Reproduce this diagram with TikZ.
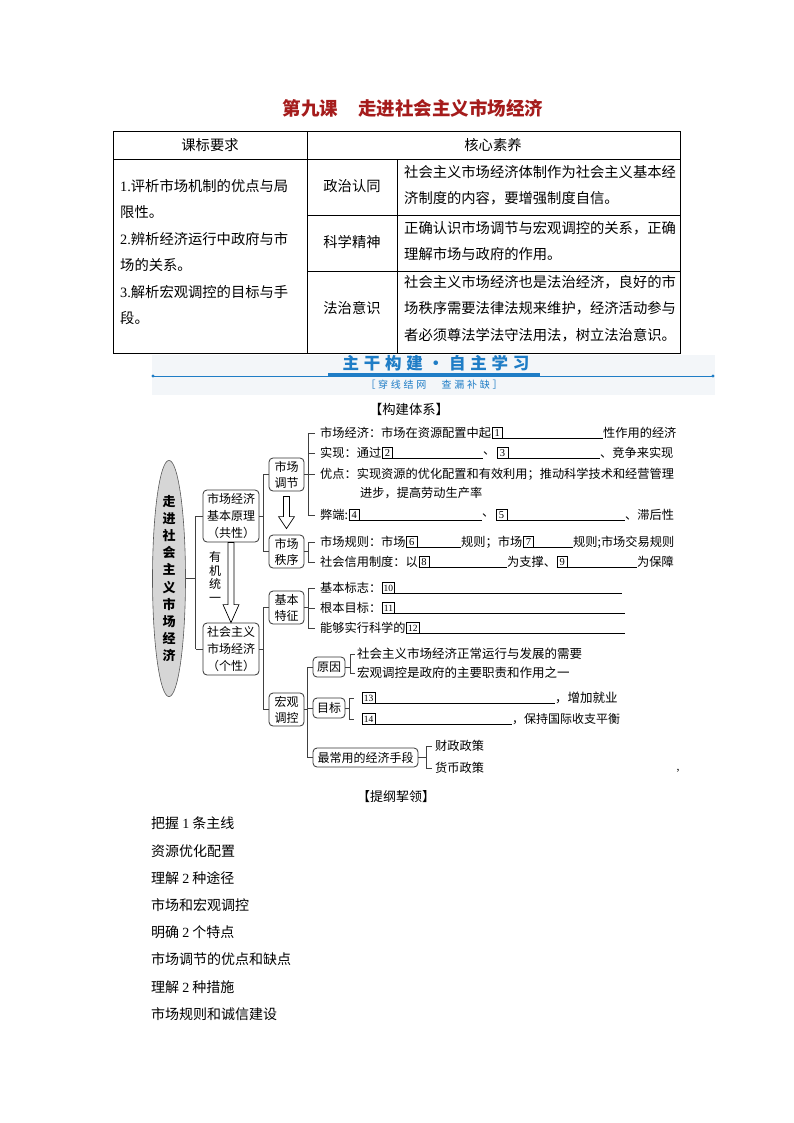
\documentclass[tikz,border=0pt]{standalone}
\usepackage{fontspec}
\setmainfont{Noto Sans CJK SC}
\newfontfamily\numf{Liberation Serif}
\usetikzlibrary{shapes.geometric,positioning,calc}
\newcommand{\myfs}[1]{\fontsize{#1}{#1}\selectfont}
\definecolor{titlered}{HTML}{A51C1C}
\definecolor{bannerblue}{HTML}{1F7DC6}
\definecolor{bandbg}{HTML}{F3F6F9}
\definecolor{ellgray}{HTML}{D6D6D6}
\begin{document}
\begin{tikzpicture}[x=1pt,y=-1pt,
  tbl/.style={line width=1pt},
  tt/.style={inner sep=0pt,font={\myfs{14.3}}},
  ttl/.style={tt,anchor=west},
  rt/.style={inner sep=0pt,anchor=west,font={\myfs{12.2}}},
  rbox/.style={draw=black!80,rounded corners=4pt,line width=0.8pt,align=center,inner sep=0pt,font={\fontsize{12}{16}\selectfont}},
  conn/.style={draw=black!75,line width=0.7pt},
  numbox/.style={draw,line width=0.6pt,inner sep=0pt,minimum width=10.5pt,minimum height=11pt,font={\numf\myfs{10.5}},anchor=west},
  numboxw/.style={numbox,minimum width=12.5pt,font={\numf\myfs{9.5}}},
  uline/.style={line width=0.7pt},
  hollow/.style={draw,fill=white,line width=0.7pt},
  bl/.style={inner sep=0pt,anchor=west,font={\myfs{14}}}]
\useasboundingbox (0,0) rectangle (794,1123);
\fill[white] (0,0) rectangle (794,1123);

% banner background first
\fill[bandbg] (152,355) rectangle (715,395);

% title
\node[font={\bfseries\myfs{18.5}},text=titlered] (title) at (413,108) {第九课\hspace{1.1em}走进社会主义市场经济};

% table
\draw[tbl] (113,132) rectangle (680,353);
\draw[tbl] (113,160) -- (680,160);
\draw[tbl] (307,132) -- (307,353);
\draw[tbl] (397,160) -- (397,353);
\draw[tbl] (307,216) -- (680,216);
\draw[tbl] (307,271) -- (680,271);
\node[tt] (h1) at (210,145) {课标要求};
\node[tt] (h2) at (493,145) {核心素养};
\node[ttl] (l1) at (120,186) {{\numf 1.}评析市场机制的优点与局};
\node[ttl] (l2) at (120,212.5) {限性。};
\node[ttl] (l3) at (120,239) {{\numf 2.}辨析经济运行中政府与市};
\node[ttl] (l4) at (120,265.5) {场的关系。};
\node[ttl] (l5) at (120,292) {{\numf 3.}解析宏观调控的目标与手};
\node[ttl] (l6) at (120,318.5) {段。};
\node[tt] (m1) at (352,186) {政治认同};
\node[tt] (m2) at (352,242) {科学精神};
\node[tt] (m3) at (352,308) {法治意识};
\node[ttl] (x1) at (404,172) {社会主义市场经济体制作为社会主义基本经};
\node[ttl] (x2) at (404,198) {济制度的内容，要增强制度自信。};
\node[ttl] (x3) at (404,228) {正确认识市场调节与宏观调控的关系，正确};
\node[ttl] (x4) at (404,254) {理解市场与政府的作用。};
\node[ttl] (x5) at (404,282) {社会主义市场经济也是法治经济，良好的市};
\node[ttl] (x6) at (404,308) {场秩序需要法律法规来维护，经济活动参与};
\node[ttl] (x7) at (404,335) {者必须尊法学法守法用法，树立法治意识。};

% banner
\draw[bannerblue,line width=0.8pt] (153,376) -- (713,376);
\fill[bannerblue] (153,376) circle (1.6) (713,376) circle (1.6);
\fill[bannerblue] (328,373) rectangle (540,376.8);
\node[font={\bfseries\myfs{16.5}\addfontfeatures{LetterSpace=29}},text=bannerblue,inner sep=0pt] (ban) at (436,363) {主干构建・自主学习};
\node[font={\myfs{10}\addfontfeatures{LetterSpace=27}},text=bannerblue,inner sep=0pt] (sub) at (434,385) {［穿线结网　查漏补缺］};
\node[font={\myfs{13.3}}] (kj) at (409,409) {【构建体系】};

% left structure
\node[ellipse,draw=gray!70!black,fill=ellgray,line width=0.6pt,minimum width=33pt,minimum height=215pt,inner sep=0pt,align=center,font={\bfseries\fontsize{13}{17.2}\selectfont}] (E) at (169,578.5) {走\\进\\社\\会\\主\\义\\市\\场\\经\\济};
\node[rbox,minimum width=56pt,minimum height=52pt,font={\fontsize{12}{17}\selectfont}] (b1) at (231,516) {市场经济\\基本原理\\（共性）};
\node[rbox,minimum width=56pt,minimum height=52pt,font={\fontsize{12}{17}\selectfont}] (b2) at (231,649) {社会主义\\市场经济\\（个性）};
\node[align=center,inner sep=0pt,font={\fontsize{12}{13.5}\selectfont}] (yj) at (215,577) {有\\机\\统\\一};
\node[rbox,minimum width=35pt,minimum height=33pt] (c1) at (286.5,474.5) {市场\\调节};
\node[rbox,minimum width=35pt,minimum height=33pt] (c2) at (286.5,551.5) {市场\\秩序};
\node[rbox,minimum width=35pt,minimum height=33pt] (c3) at (286.5,607.5) {基本\\特征};
\node[rbox,minimum width=35pt,minimum height=33pt] (c4) at (286.5,709.5) {宏观\\调控};

\draw[conn] (E.east) -- ++(10,0) coordinate (ev);
\draw[conn] (ev |- b1.west) -- (ev |- b2.west);
\draw[conn] (ev |- b1.west) -- (b1.west);
\draw[conn] (ev |- b2.west) -- (b2.west);
\draw[conn] (b1.east) -- ++(4,0) coordinate (bv1);
\draw[conn] (bv1 |- c1.west) -- (bv1 |- c2.west);
\draw[conn] (bv1 |- c1.west) -- (c1.west);
\draw[conn] (bv1 |- c2.west) -- (c2.west);
\draw[conn] (b2.east) -- ++(4,0) coordinate (bv2);
\draw[conn] (bv2 |- c3.west) -- (bv2 |- c4.west);
\draw[conn] (bv2 |- c3.west) -- (c3.west);
\draw[conn] (bv2 |- c4.west) -- (c4.west);

% hollow arrows
\draw[hollow] let \p1=(b1.south), \p2=(b2.north) in
  (\x1-3pt,\y1) -- (\x1-3pt,\y2+18pt) -- (\x1-8pt,\y2+18pt) -- (\x2,\y2)
  -- (\x1+8pt,\y2+18pt) -- (\x1+3pt,\y2+18pt) -- (\x1+3pt,\y1) -- cycle;
\draw[hollow] let \p1=(c1.south), \p2=(c2.north) in
  (\x1-3pt,\y1-5pt) -- (\x1-3pt,\y2+18pt) -- (\x1-8pt,\y2+18pt) -- (\x2,\y2+6pt)
  -- (\x1+8pt,\y2+18pt) -- (\x1+3pt,\y2+18pt) -- (\x1+3pt,\y1-5pt) -- cycle;

% market regulation subtree
\node[rt] (r1) at (320,433) {市场经济：市场在资源配置中起};
\node[numbox,right=0.5pt of r1] (n1) {1};
\node[rt] (r1b) at (603,433) {性作用的经济};
\draw[uline] (n1.south west) -- (n1.south west -| r1b.west);
\node[rt] (r2) at (320,453) {实现：通过};
\node[numbox,right=0.5pt of r2] (n2) {2};
\node[rt] (r2b) at (483,453) {、};
\node[numbox] (n3) at (497,453) {3};
\node[rt] (r2c) at (600,453) {、竞争来实现};
\draw[uline] (n2.south west) -- (n2.south west -| r2b.west);
\draw[uline] (n3.south west) -- (n3.south west -| r2c.west);
\node[rt] (r3) at (320,474) {优点：实现资源的优化配置和有效利用；推动科学技术和经营管理};
\node[rt] (r3b) at (360,493) {进步，提高劳动生产率};
\node[rt] (r4) at (320,515) {弊端:};
\node[numbox,right=0.5pt of r4] (n4) {4};
\node[rt] (r4b) at (482,515) {、};
\node[numbox] (n5) at (496,515) {5};
\node[rt] (r4c) at (625,515) {、滞后性};
\draw[uline] (n4.south west) -- (n4.south west -| r4b.west);
\draw[uline] (n5.south west) -- (n5.south west -| r4c.west);
\draw[conn] (c1.east) -- ++(3.5,0) coordinate (cv1);
\draw[conn] (cv1 |- r1.west) -- (cv1 |- r4.west);
\foreach \n in {r1,r2,r3,r4} \draw[conn] (cv1 |- \n.west) -- ([xshift=-5pt]\n.west);

% market order subtree
\node[rt] (r6) at (320,542) {市场规则：市场};
\node[numbox,right=0.5pt of r6] (n6) {6};
\node[rt] (r6b) at (461,542) {规则；市场};
\node[numbox,right=0.5pt of r6b] (n7) {7};
\node[rt] (r6c) at (573,542) {规则;市场交易规则};
\draw[uline] (n6.south west) -- (n6.south west -| r6b.west);
\draw[uline] (n7.south west) -- (n7.south west -| r6c.west);
\node[rt] (r8) at (320,562) {社会信用制度：以};
\node[numbox,right=0.5pt of r8] (n8) {8};
\node[rt] (r8b) at (507,562) {为支撑、};
\node[numbox,right=0.5pt of r8b] (n9) {9};
\node[rt] (r8c) at (637,562) {为保障};
\draw[uline] (n8.south west) -- (n8.south west -| r8b.west);
\draw[uline] (n9.south west) -- (n9.south west -| r8c.west);
\draw[conn] (c2.east) -- ++(3.5,0) coordinate (cv2);
\draw[conn] (cv2 |- r6.west) -- (cv2 |- r8.west);
\foreach \n in {r6,r8} \draw[conn] (cv2 |- \n.west) -- ([xshift=-5pt]\n.west);

% basic features subtree
\node[rt] (r10) at (320,588) {基本标志：};
\node[numboxw,right=0.5pt of r10] (n10) {10};
\coordinate (e10) at (622,588);
\draw[uline] (n10.south west) -- (n10.south west -| e10);
\node[rt] (r11) at (320,608) {根本目标：};
\node[numboxw,right=0.5pt of r11] (n11) {11};
\coordinate (e11) at (625,608);
\draw[uline] (n11.south west) -- (n11.south west -| e11);
\node[rt] (r12) at (320,628) {能够实行科学的};
\node[numboxw,right=0.5pt of r12] (n12) {12};
\coordinate (e12) at (625,628);
\draw[uline] (n12.south west) -- (n12.south west -| e12);
\draw[conn] (c3.east) -- ++(3.5,0) coordinate (cv3);
\draw[conn] (cv3 |- r10.west) -- (cv3 |- r12.west);
\foreach \n in {r10,r11,r12} \draw[conn] (cv3 |- \n.west) -- ([xshift=-5pt]\n.west);

% macro control subtree
\node[rbox,minimum width=32pt,minimum height=20pt] (d1) at (329,667) {原因};
\node[rbox,minimum width=32pt,minimum height=20pt] (d2) at (329,708) {目标};
\node[rbox,minimum width=105pt,minimum height=19pt] (d3) at (365.5,757.5) {最常用的经济手段};
\draw[conn] (c4.east) -- ++(3,0) coordinate (cv4);
\draw[conn] (cv4 |- d1.west) -- (cv4 |- d3.west);
\foreach \n in {d1,d2,d3} \draw[conn] (cv4 |- \n.west) -- (\n.west);

\node[rt,font={\myfs{12.5}}] (s1) at (357,654) {社会主义市场经济正常运行与发展的需要};
\node[rt,font={\myfs{12.5}}] (s2) at (357,673) {宏观调控是政府的主要职责和作用之一};
\draw[conn] (d1.east) -- ++(5,0) coordinate (dv1);
\draw[conn] (dv1 |- s1.west) -- (dv1 |- s2.west);
\foreach \n in {s1,s2} \draw[conn] (dv1 |- \n.west) -- ([xshift=-2.5pt]\n.west);

\node[numboxw] (n13) at (362,698) {13};
\node[rt,font={\myfs{12.5}}] (t13) at (555,698) {，增加就业};
\node[numboxw] (n14) at (362,719) {14};
\node[rt,font={\myfs{12}}] (t14) at (512,719) {，保持国际收支平衡};
\draw[uline] (n13.south west) -- (n13.south west -| t13.west);
\draw[uline] (n14.south west) -- (n14.south west -| t14.west);
\draw[conn] (d2.east) -- ++(4,0) coordinate (dv2);
\draw[conn] (dv2 |- n13.west) -- (dv2 |- n14.west);
\foreach \n in {n13,n14} \draw[conn] (dv2 |- \n.west) -- ([xshift=-8pt]\n.west);

\node[rt,font={\myfs{12.2}}] (q1) at (435,746) {财政政策};
\node[rt,font={\myfs{12.2}}] (q2) at (435,768) {货币政策};
\draw[conn] (d3.east) -- ++(8,0) coordinate (dv3);
\draw[conn] (dv3 |- q1.west) -- (dv3 |- q2.west);
\foreach \n in {q1,q2} \draw[conn] (dv3 |- \n.west) -- ([xshift=-3pt]\n.west);

\node[font={\numf\myfs{12}},inner sep=0pt] (cm) at (678,771) {,};

% outline section
\node[font={\myfs{13}}] (tg) at (396,797) {【提纲挈领】};
\node[bl] (o1) at (151,823) {把握 {\numf 1} 条主线};
\node[bl] (o2) at (151,851) {资源优化配置};
\node[bl] (o3) at (151,878) {理解 {\numf 2} 种途径};
\node[bl] (o4) at (151,905) {市场和宏观调控};
\node[bl] (o5) at (151,932) {明确 {\numf 2} 个特点};
\node[bl] (o6) at (151,959) {市场调节的优点和缺点};
\node[bl] (o7) at (151,987) {理解 {\numf 2} 种措施};
\node[bl] (o8) at (151,1014) {市场规则和诚信建设};
\end{tikzpicture}
\end{document}
